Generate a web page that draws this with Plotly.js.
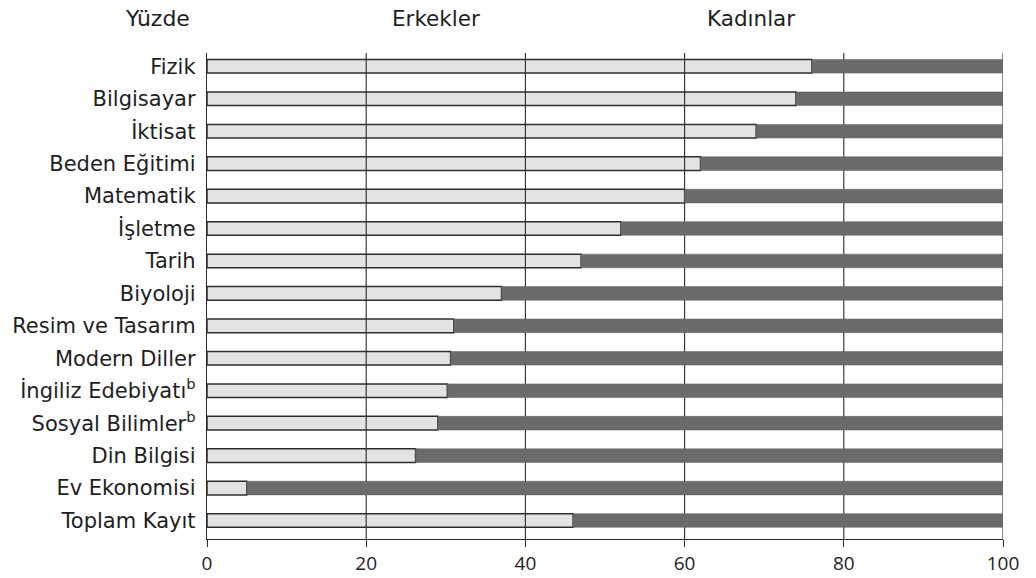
<!DOCTYPE html>
<html>
<head>
<meta charset="utf-8">
<script src="https://cdn.plot.ly/plotly-3.0.1.min.js"></script>
<style>html,body{margin:0;padding:0;background:#fff;}#chart{width:1036px;height:578px;}</style>
</head>
<body>
<div id="chart"></div>
<script>
const categories = ["Fizik","Bilgisayar","İktisat","Beden Eğitimi","Matematik","İşletme","Tarih","Biyoloji","Resim ve Tasarım","Modern Diller","İngiliz Edebiyatı<sup>b</sup>","Sosyal Bilimler<sup>b</sup>","Din Bilgisi","Ev Ekonomisi","Toplam Kayıt"];
const erkekler = [76, 74, 69, 62, 60, 52, 47, 37, 31, 30.6, 30.2, 29, 26.2, 5, 46];
const kadinlar = erkekler.map(v => 100 - v);
const xTicks = [0, 20, 40, 60, 80, 100];
const gridValues = [20, 40, 60, 80, 100];
const headers = ["Yüzde", "Erkekler", "Kadınlar"];

const idx = categories.map((_, i) => i);
const yRange = [14.57, -0.41];

// gridlines as a line trace: drawn over the light bars, under the dark bars
const gx = [], gy = [];
gridValues.forEach(v => { gx.push(v, v, null); gy.push(yRange[0], yRange[1], null); });

const traces = [
  {type:'bar', orientation:'h', y:idx, x:erkekler, name:headers[1], width:0.42,
   marker:{color:'#e3e3e3', line:{color:'#2e2e2e', width:1.5}}, hoverinfo:'x'},
  {type:'scatter', mode:'lines', x:gx, y:gy, line:{color:'#2a2a2a', width:1.1}, hoverinfo:'skip', cliponaxis:false},
  {type:'bar', orientation:'h', y:idx, x:kadinlar, base:erkekler, name:headers[2], width:0.42, xaxis:'x2', yaxis:'y2',
   marker:{color:'#6b6b6b', line:{color:'#5e5e5e', width:0.5}}, hoverinfo:'x'}
];

const layout = {
  width:1036, height:578,
  margin:{l:207, r:33, t:53, b:39},
  barmode:'overlay', showlegend:false,
  paper_bgcolor:'#fff', plot_bgcolor:'#fff',
  font:{family:'DejaVu Sans, sans-serif', color:'#1e1e1e'},
  xaxis:{range:[0,100], tickvals:xTicks, ticktext:xTicks.map(String), showgrid:false, zeroline:false,
    showline:true, linecolor:'#2a2a2a', linewidth:1.2, ticks:'outside', ticklen:7, tickcolor:'#2a2a2a',
    tickfont:{family:'Open Sans, sans-serif', size:19, color:'#222'}, fixedrange:true},
  yaxis:{type:'linear', range:yRange, tickvals:idx, ticktext:categories,
    showgrid:false, zeroline:false, showline:true, linecolor:'#2a2a2a', linewidth:1.2, ticks:'',
    ticklabelstandoff:6, tickfont:{family:'DejaVu Sans, sans-serif', size:21, color:'#1e1e1e'}, fixedrange:true},
  xaxis2:{overlaying:'x', range:[0,100], visible:false, fixedrange:true},
  yaxis2:{overlaying:'y', type:'linear', range:yRange, visible:false, fixedrange:true},
  annotations:[
    {text:headers[0], xref:'paper', yref:'paper', x:-0.062, y:1.072, showarrow:false, xanchor:'center', yanchor:'middle', font:{size:22, family:'DejaVu Sans, sans-serif', color:'#1e1e1e'}},
    {text:headers[1], xref:'paper', yref:'paper', x:0.288, y:1.072, showarrow:false, xanchor:'center', yanchor:'middle', font:{size:21.5, family:'DejaVu Sans, sans-serif', color:'#1e1e1e'}},
    {text:headers[2], xref:'paper', yref:'paper', x:0.684, y:1.072, showarrow:false, xanchor:'center', yanchor:'middle', font:{size:21.5, family:'DejaVu Sans, sans-serif', color:'#1e1e1e'}}
  ]
};
Plotly.newPlot('chart', traces, layout, {staticPlot:true, displayModeBar:false});
</script>
</body>
</html>
